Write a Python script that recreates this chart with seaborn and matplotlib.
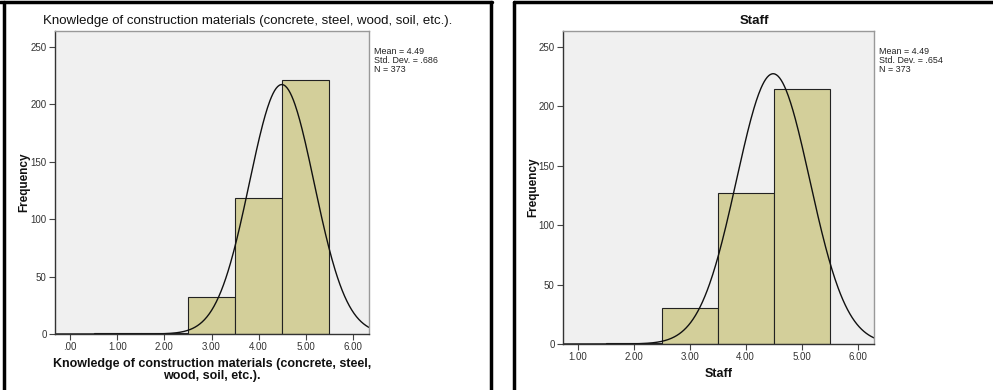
import numpy as np
import pandas as pd
import matplotlib
matplotlib.use("Agg")
import matplotlib.pyplot as plt
import seaborn as sns
from matplotlib.lines import Line2D

# ---- data ----
left_title = "Knowledge of construction materials (concrete, steel, wood, soil, etc.)."
left_xlabel = "Knowledge of construction materials (concrete, steel,\nwood, soil, etc.)."
left_values = [1, 2, 3, 4, 5]
left_counts = [1, 1, 32, 118, 221]
left_mean, left_sd, left_n = 4.49, 0.686, 373
left_xticks = [0, 1, 2, 3, 4, 5, 6]
left_xticklabels = [".00", "1.00", "2.00", "3.00", "4.00", "5.00", "6.00"]

right_title = "Staff"
right_xlabel = "Staff"
right_values = [2, 3, 4, 5]
right_counts = [1, 30, 127, 215]
right_mean, right_sd, right_n = 4.49, 0.654, 373
right_xticks = [1, 2, 3, 4, 5, 6]
right_xticklabels = ["1.00", "2.00", "3.00", "4.00", "5.00", "6.00"]

yticks = [0, 50, 100, 150, 200, 250]

sns.set_theme(style="white")
plt.rcParams['font.family'] = ['Liberation Sans', 'DejaVu Sans']

W, H = 993, 390
fig = plt.figure(figsize=(W / 100, H / 100), dpi=100)
fig.patch.set_facecolor("white")

BAR = "#D3CF9A"
BG = "#F0F0F0"


def px_axes(x0, x1, y0, y1):
    return fig.add_axes([x0 / W, 1 - y1 / H, (x1 - x0) / W, (y1 - y0) / H])


def panel(ax, values, counts, mean, sd, n, xticks, xticklabels, xlim, xlabel, stats_x,
          ylabel_x):
    df = pd.DataFrame({"v": values, "c": counts})
    sns.histplot(data=df, x="v", weights="c", discrete=True, ax=ax,
                 color=BAR, alpha=1.0, edgecolor="#222222", linewidth=0.8)
    xs = np.linspace(xlim[0], xlim[1], 400)
    ys = n * 1.0 / (sd * np.sqrt(2 * np.pi)) * np.exp(-0.5 * ((xs - mean) / sd) ** 2)
    sns.lineplot(x=xs, y=ys, ax=ax, color="#111111", linewidth=1.0)
    ax.set_facecolor(BG)
    ax.set_xlim(*xlim)
    ax.set_ylim(0, 263.5)
    ax.set_xticks(xticks)
    ax.set_xticklabels(xticklabels)
    ax.set_yticks(yticks)
    ax.tick_params(axis="both", direction="out", length=4, width=0.8,
                   colors="#444444", labelsize=7, pad=2, bottom=True, left=True)
    ax.tick_params(axis="both", labelcolor="#333333")
    for s in ax.spines.values():
        s.set_color("#999999")
        s.set_linewidth(1.0)
    ax.spines["bottom"].set_color("#333333")
    ax.spines["left"].set_color("#333333")
    ax.set_xlabel(xlabel, fontsize=9, fontweight="bold", color="#111111", labelpad=4,
                  linespacing=1.05)
    ax.set_ylabel("Frequency", fontsize=8.5, fontweight="bold", color="#111111")
    ax.yaxis.set_label_coords(ylabel_x, 0.5)
    fig.text(stats_x / W, 1 - 47 / H,
             f"Mean = {mean:.2f}\nStd. Dev. = {('%.3f' % sd)[1:]}\nN = {n}",
             fontsize=6.4, color="#222222", va="top", ha="left", linespacing=0.97)


axL = px_axes(55, 369, 31, 334)
panel(axL, left_values, left_counts, left_mean, left_sd, left_n, left_xticks,
      left_xticklabels, (-0.32, 6.34), left_xlabel, 374, (30 - 55) / 314)
fig.text(247.5 / W, 1 - 21 / H, left_title, fontsize=9.5, ha="center", va="center",
         color="#111111")

axR = px_axes(563, 874, 31, 344)
panel(axR, right_values, right_counts, right_mean, right_sd, right_n, right_xticks,
      right_xticklabels, (0.74, 6.29), right_xlabel, 879, (539 - 563) / 311)
fig.text(754 / W, 1 - 21 / H, right_title, fontsize=9.5, fontweight="bold",
         ha="center", va="center", color="#111111")

# panel borders
def fline(x0, y0, x1, y1):
    fig.add_artist(Line2D([x0 / W, x1 / W], [1 - y0 / H, 1 - y1 / H],
                          color="black", linewidth=2.5, transform=fig.transFigure))

fline(0, 2, 492, 2)
fline(4, 2, 4, 390)
fline(491, 2, 491, 390)
fline(514, 2, 993, 2)
fline(514, 2, 514, 390)

fig.savefig("out.png", dpi=100)
